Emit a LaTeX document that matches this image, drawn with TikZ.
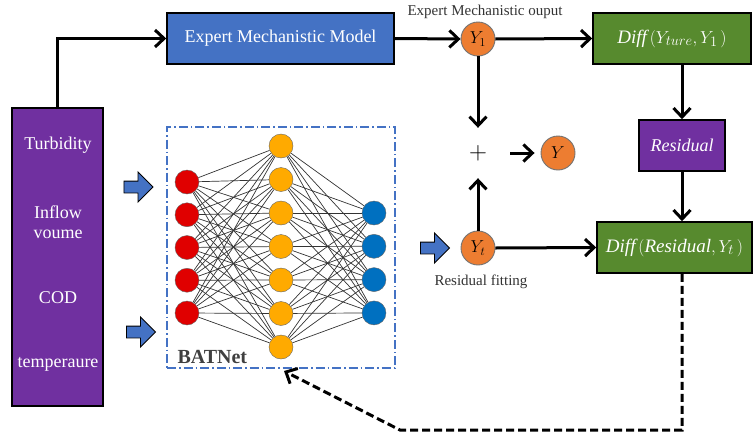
\documentclass[tikz,border=0pt]{standalone}
\usepackage{fontspec}
\setmainfont{Liberation Serif}
\usepackage{tikz}
\usetikzlibrary{arrows.meta,positioning,shapes.arrows,backgrounds,calc}
\definecolor{inpurple}{HTML}{7030A0}
\definecolor{modelblue}{HTML}{4472C4}
\definecolor{diffgreen}{HTML}{578A2E}
\definecolor{outorange}{HTML}{ED7D31}
\definecolor{nred}{HTML}{E00000}
\definecolor{nyellow}{HTML}{FFAA00}
\definecolor{nblue}{HTML}{0070C0}

\begin{document}
\begin{tikzpicture}[x=1pt,y=-1pt,
  box/.style={draw=black,line width=1.6pt,minimum height=51pt,inner sep=0pt,text=white,font=\fontsize{18}{20}\selectfont},
  intext/.style={text=white,align=center,font=\fontsize{18}{20}\selectfont},
  outc/.style={circle,draw=black!55,line width=0.9pt,fill=outorange,minimum size=34pt,inner sep=0pt,font=\fontsize{17}{18}\selectfont},
  neuron/.style={circle,draw=black!60,minimum size=24pt,inner sep=0pt},
  flow/.style={-{Straight Barb[length=9pt,width=17pt]},line width=3pt},
  fatarrow/.style={single arrow,draw=black,line width=0.9pt,fill=modelblue,minimum height=29pt,inner xsep=0pt,inner ysep=5.5pt,single arrow head extend=9pt},
  small/.style={font=\fontsize{15}{16}\selectfont,text=black!80}]
  \useasboundingbox (0,0) rectangle (755,434);

  % inputs
  \node[draw=black,line width=1.6pt,fill=inpurple,minimum width=91pt,minimum height=298pt] (inputs) at (57.5,257) {};
  \node[intext] (turb) at (58,145) {Turbidity};
  \node[intext] (inflow) at (58,222) {Inflow\\voume};
  \node[intext] (cod) at (58,298) {COD};
  \node[intext] (temp) at (58,364) {temperaure};

  % mechanistic branch
  \node[box,fill=modelblue,minimum width=227pt] (expert) at (280.5,38.5) {Expert Mechanistic Model};
  \node[outc] (y1) at (478,39) {$Y_1$};
  \node[small] (y1lab) at (485,12) {Expert Mechanistic ouput};
  \node[box,fill=diffgreen,minimum width=158pt,font=\fontsize{19}{20}\selectfont] (diff1) at (672,38.5) {$\mathit{Diff}\,(Y_{ture},Y_1\,)$};
  \node[box,fill=inpurple,minimum width=86pt] (resid) at (682,145.5) {\itshape Residual};
  \node[box,fill=diffgreen,minimum width=155pt,font=\fontsize{19}{20}\selectfont] (diff2) at (674.5,247.5) {$\mathit{Diff}\,(\mathit{Residual},Y_t\,)$};

  % sum
  \node[minimum width=64pt,minimum height=50pt,inner sep=0pt,font=\fontsize{24}{24}\selectfont] (plus) at (478,153) {$+$};
  \node[outc] (yout) at (558,153) {$Y$};
  \node[outc] (yt) at (478,248) {$Y_t$};
  \node[small] (ytlab) at (481,282) {Residual fitting};

  % BATNet
  \node[draw=modelblue,line width=1.2pt,dash pattern=on 9pt off 3pt on 1.5pt off 3pt,minimum width=228pt,minimum height=241pt] (batnet) at (281,247.5) {};
  \node[font=\fontsize{20}{20}\selectfont\bfseries,text=black!75,anchor=base west] (batlab) at (174,363) {BATNet};
  \foreach \i in {0,...,4}
    \node[neuron,fill=nred] (r\i) at (187,182+32.75*\i) {};
  \foreach \j in {0,...,6}
    \node[neuron,fill=nyellow] (h\j) at (281,146+33.5*\j) {};
  \foreach \k in {0,...,3}
    \node[neuron,fill=nblue] (o\k) at (374,213+33.3*\k) {};
  \begin{scope}[on background layer]
    \foreach \i in {0,...,4}
      \foreach \j in {0,...,6}
        \draw[black!80,line width=0.7pt] (r\i) -- (h\j);
    \foreach \j in {0,...,6}
      \foreach \k in {0,...,3}
        \draw[black!80,line width=0.7pt] (h\j) -- (o\k);
  \end{scope}

  \node[fatarrow] (in1) at (135.5,187) {};
  \node[fatarrow] (in2) at (138,332) {};
  \node[fatarrow] (in3) at (432,248) {};

  % connectors
  \draw[flow] (inputs.north) |- (expert.west);
  \draw[flow] (expert.east) -- (y1.west);
  \draw[flow] (y1.east) -- (diff1.west);
  \draw[flow] (y1.south) -- (plus.north);
  \draw[flow] (yt.north) -- (plus.south);
  \draw[flow,shorten >=6pt] (plus.east) -- (yout.west);
  \draw[flow] (diff1.south -| resid.north) -- (resid.north);
  \draw[flow] (resid.south) -- (resid.south |- diff2.north);
  \draw[flow] (yt.east) -- (diff2.west);

  \coordinate (bend) at (400,430);
  \coordinate (fb) at (284,371);
  \draw[line width=3pt,dash pattern=on 8pt off 4pt,-{Straight Barb[length=9pt,width=17pt]}] (diff2.south -| resid.south) |- (bend) -- (fb);
\end{tikzpicture}
\end{document}
